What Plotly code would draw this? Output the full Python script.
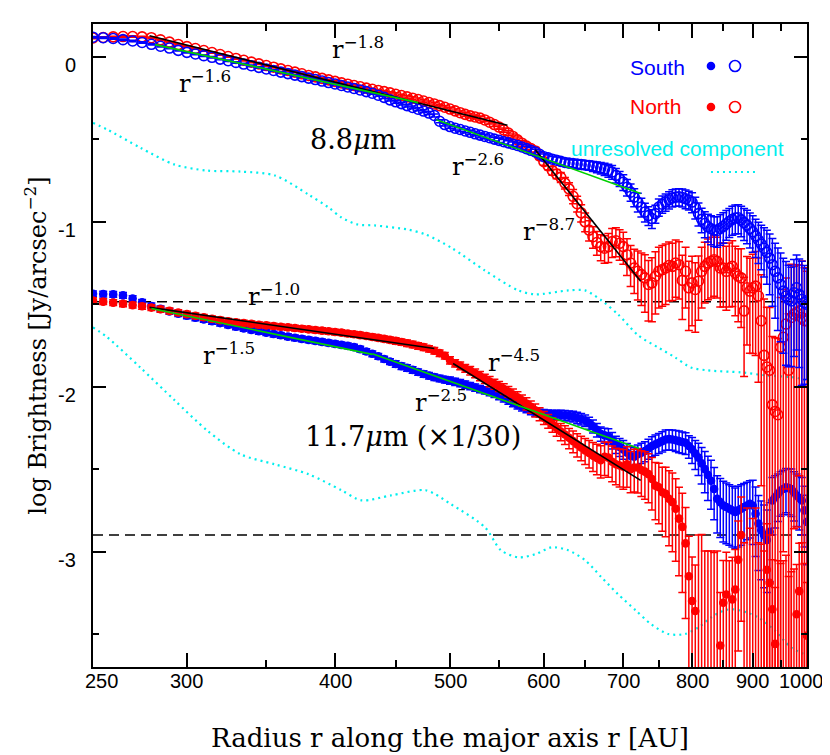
import math
import plotly.graph_objects as go

# ---------------- data ----------------
R = [250, 255, 260, 265, 270, 275, 280, 285, 290, 295,
     300, 305, 310, 315, 320, 325, 330, 335, 340, 345,
     350, 355, 360, 365, 370, 375, 380, 385, 390, 395,
     400, 405, 410, 415, 420, 425, 430, 435, 440, 445,
     450, 455, 460, 465, 470, 475, 480, 485, 490, 495,
     500, 505, 510, 515, 520, 525, 530, 535, 540, 545,
     550, 555, 560, 565, 570, 575, 580, 585, 590, 595,
     600, 605, 610, 615, 620, 625, 630, 635, 640, 645,
     650, 655, 660, 665, 670, 675, 680, 685, 690, 695,
     700, 705, 710, 715, 720, 725, 730, 735, 740, 745,
     750, 755, 760, 765, 770, 775, 780, 785, 790, 795,
     800, 805, 810, 815, 820, 825, 830, 835, 840, 845,
     850, 855, 860, 865, 870, 875, 880, 885, 890, 895,
     900, 905, 910, 915, 920, 925, 930, 935, 940, 945,
     950, 955, 960, 965, 970, 975, 980, 985, 990, 995,
     1000]

# 8.8 um, South (blue open)
S88 = [0.120, 0.117, 0.112, 0.105, 0.097, 0.088, 0.077, 0.065, 0.054, 0.040,
       0.028, 0.018, 0.008, -0.002, -0.013, -0.023, -0.033, -0.043, -0.053, -0.063,
       -0.073, -0.082, -0.092, -0.101, -0.110, -0.119, -0.128, -0.137, -0.146, -0.155,
       -0.164, -0.173, -0.182, -0.191, -0.200, -0.210, -0.220, -0.232, -0.245, -0.260,
       -0.272, -0.283, -0.295, -0.306, -0.317, -0.328, -0.340, -0.355, -0.390, -0.410,
       -0.422, -0.432, -0.440, -0.449, -0.457, -0.466, -0.474, -0.482, -0.490, -0.498,
       -0.506, -0.514, -0.521, -0.529, -0.537, -0.546, -0.556, -0.566, -0.576, -0.590,
       -0.605, -0.612, -0.620, -0.626, -0.633, -0.640, -0.644, -0.646, -0.650, -0.652,
       -0.655, -0.658, -0.663, -0.668, -0.674, -0.680, -0.688, -0.698, -0.718, -0.738,
       -0.760, -0.790, -0.820, -0.850, -0.880, -0.910, -0.940, -0.962, -0.980, -0.950,
       -0.910, -0.893, -0.880, -0.866, -0.855, -0.850, -0.848, -0.852, -0.860, -0.868,
       -0.880, -0.912, -0.950, -0.985, -1.010, -1.030, -1.042, -1.050, -1.052, -1.040,
       -1.028, -1.012, -0.998, -0.985, -0.977, -0.975, -0.988, -1.005, -1.020, -1.040,
       -1.060, -1.085, -1.110, -1.135, -1.160, -1.185, -1.220, -1.260, -1.300, -1.340,
       -1.380, -1.420, -1.450, -1.470, -1.480, -1.430, -1.400, -1.440, -1.470, -1.490,
       -1.500]

# 8.8 um, North (red open)
N88 = [0.115, 0.118, 0.122, 0.124, 0.124, 0.122, 0.117, 0.104, 0.090, 0.076,
       0.063, 0.051, 0.039, 0.027, 0.015, 0.003, -0.009, -0.020, -0.031, -0.042,
       -0.052, -0.062, -0.072, -0.082, -0.092, -0.102, -0.112, -0.121, -0.130, -0.139,
       -0.148, -0.157, -0.165, -0.173, -0.181, -0.189, -0.196, -0.203, -0.210, -0.218,
       -0.226, -0.234, -0.242, -0.250, -0.258, -0.267, -0.276, -0.285, -0.295, -0.305,
       -0.316, -0.327, -0.338, -0.348, -0.357, -0.364, -0.371, -0.382, -0.396, -0.410,
       -0.425, -0.443, -0.462, -0.482, -0.503, -0.523, -0.541, -0.556, -0.570, -0.600,
       -0.635, -0.660, -0.690, -0.710, -0.730, -0.765, -0.800, -0.845, -0.890, -0.945,
       -1.000, -1.050, -1.090, -1.125, -1.150, -1.160, -1.150, -1.120, -1.115, -1.130,
       -1.150, -1.200, -1.250, -1.280, -1.300, -1.320, -1.340, -1.380, -1.370, -1.330,
       -1.300, -1.290, -1.280, -1.265, -1.270, -1.250, -1.260, -1.355, -1.300, -1.400,
       -1.370, -1.410, -1.360, -1.300, -1.270, -1.250, -1.240, -1.230, -1.240, -1.280,
       -1.280, -1.300, -1.280, -1.270, -1.310, -1.330, -1.340, -1.540, -1.400, -1.420,
       -1.400, -1.390, -1.450, -1.600, -1.810, -1.880, -1.900, -2.110, -2.150, -2.170,
       -1.760, -1.700, -1.620, -1.900, -1.580, -1.560, -1.550, -1.540, -1.580, -1.600,
       -1.600]

# 11.7 um (x1/30), South (blue filled)
S117 = [-1.436, -1.438, -1.440, -1.446, -1.465, -1.488, -1.510, -1.528, -1.543, -1.557,
        -1.570, -1.582, -1.592, -1.603, -1.614, -1.625, -1.636, -1.646, -1.655, -1.664,
        -1.672, -1.680, -1.688, -1.696, -1.703, -1.710, -1.716, -1.722, -1.728, -1.734,
        -1.740, -1.746, -1.752, -1.760, -1.772, -1.786, -1.800, -1.815, -1.832, -1.848,
        -1.862, -1.875, -1.886, -1.898, -1.911, -1.923, -1.933, -1.942, -1.950, -1.957,
        -1.963, -1.970, -1.978, -1.987, -1.996, -2.005, -2.014, -2.022, -2.032, -2.043,
        -2.055, -2.068, -2.082, -2.097, -2.110, -2.122, -2.134, -2.145, -2.154, -2.160,
        -2.164, -2.166, -2.168, -2.170, -2.172, -2.174, -2.176, -2.180, -2.188, -2.196,
        -2.205, -2.220, -2.240, -2.262, -2.285, -2.295, -2.300, -2.325, -2.350, -2.365,
        -2.380, -2.400, -2.420, -2.425, -2.410, -2.400, -2.390, -2.375, -2.360, -2.350,
        -2.340, -2.330, -2.320, -2.318, -2.320, -2.325, -2.330, -2.335, -2.340, -2.360,
        -2.380, -2.405, -2.430, -2.465, -2.500, -2.535, -2.570, -2.620, -2.680, -2.700,
        -2.720, -2.730, -2.740, -2.750, -2.760, -2.750, -2.740, -2.730, -2.720, -2.710,
        -2.720, -2.770, -2.830, -2.870, -2.900, -2.930, -2.880, -2.690, -2.670, -2.650,
        -2.630, -2.620, -2.610, -2.615, -2.620, -2.640, -2.660, -2.675, -2.690, -2.750,
        -2.820]

# 11.7 um (x1/30), North (red filled); points below -3.7 fall under the frame
N117 = [-1.478, -1.484, -1.490, -1.497, -1.505, -1.512, -1.520, -1.530, -1.540, -1.550,
        -1.560, -1.570, -1.579, -1.588, -1.596, -1.603, -1.609, -1.614, -1.619, -1.624,
        -1.628, -1.632, -1.636, -1.640, -1.644, -1.648, -1.652, -1.656, -1.660, -1.664,
        -1.668, -1.672, -1.677, -1.682, -1.687, -1.692, -1.698, -1.704, -1.710, -1.716,
        -1.722, -1.729, -1.736, -1.744, -1.752, -1.760, -1.770, -1.782, -1.796, -1.812,
        -1.840, -1.858, -1.873, -1.888, -1.902, -1.918, -1.935, -1.952, -1.968, -1.984,
        -1.998, -2.014, -2.030, -2.047, -2.064, -2.083, -2.102, -2.122, -2.143, -2.165,
        -2.188, -2.208, -2.230, -2.250, -2.272, -2.290, -2.310, -2.330, -2.350, -2.368,
        -2.386, -2.402, -2.418, -2.432, -2.445, -2.425, -2.430, -2.455, -2.470, -2.478,
        -2.485, -2.470, -2.500, -2.490, -2.490, -2.505, -2.515, -2.530, -2.560, -2.600,
        -2.610, -2.640, -2.650, -2.680, -2.700, -2.740, -2.800, -2.850, -2.950, -3.150,
        -3.300, -3.360, -3.900, -3.850, -3.900, -3.950, -3.900, -3.850, -3.900, -3.570,
        -3.310, -3.260, -3.900, -3.290, -3.230, -3.050, -2.900, -3.900, -3.850, -3.900,
        -3.800, -3.850, -3.900, -3.800, -3.900, -3.110, -3.190, -3.350, -3.560, -3.900,
        -3.850, -3.900, -3.800, -3.850, -3.900, -3.950, -3.380, -3.240, -3.900, -3.850,
        -3.510]

# relative (linear) 1-sigma errors
E_S88 = [0.01, 0.01, 0.01, 0.01, 0.01, 0.01, 0.01, 0.01, 0.01, 0.01,
         0.01, 0.01, 0.01, 0.01, 0.01, 0.01, 0.01, 0.01, 0.01, 0.01,
         0.01, 0.01, 0.01, 0.01, 0.01, 0.01, 0.01, 0.01, 0.01, 0.01,
         0.015, 0.015, 0.015, 0.015, 0.015, 0.015, 0.015, 0.015, 0.015, 0.015,
         0.02, 0.02, 0.02, 0.02, 0.02, 0.02, 0.02, 0.02, 0.02, 0.02,
         0.025, 0.025, 0.025, 0.025, 0.025, 0.025, 0.025, 0.025, 0.025, 0.025,
         0.03, 0.03, 0.03, 0.03, 0.035, 0.035, 0.035, 0.04, 0.04, 0.04,
         0.04, 0.04, 0.04, 0.045, 0.05, 0.05, 0.05, 0.055, 0.06, 0.06,
         0.06, 0.065, 0.07, 0.075, 0.08, 0.085, 0.09, 0.095, 0.10, 0.105,
         0.11, 0.115, 0.12, 0.125, 0.13, 0.13, 0.13, 0.13, 0.13, 0.125,
         0.12, 0.12, 0.12, 0.12, 0.12, 0.12, 0.12, 0.125, 0.13, 0.13,
         0.14, 0.15, 0.16, 0.17, 0.18, 0.19, 0.20, 0.205, 0.21, 0.21,
         0.21, 0.205, 0.20, 0.20, 0.20, 0.20, 0.21, 0.22, 0.23, 0.24,
         0.25, 0.26, 0.28, 0.30, 0.33, 0.36, 0.40, 0.44, 0.48, 0.52,
         0.55, 0.58, 0.62, 0.61, 0.60, 0.59, 0.58, 0.64, 0.70, 0.68,
         0.65]
E_N88 = [0.01, 0.01, 0.01, 0.01, 0.01, 0.01, 0.01, 0.01, 0.01, 0.01,
         0.01, 0.01, 0.01, 0.01, 0.01, 0.01, 0.01, 0.01, 0.01, 0.01,
         0.01, 0.01, 0.01, 0.01, 0.01, 0.01, 0.01, 0.01, 0.01, 0.01,
         0.015, 0.015, 0.015, 0.015, 0.015, 0.015, 0.015, 0.015, 0.015, 0.015,
         0.02, 0.02, 0.02, 0.02, 0.02, 0.02, 0.02, 0.02, 0.02, 0.02,
         0.025, 0.025, 0.025, 0.025, 0.025, 0.025, 0.025, 0.025, 0.025, 0.025,
         0.03, 0.03, 0.035, 0.035, 0.04, 0.04, 0.045, 0.045, 0.05, 0.05,
         0.05, 0.055, 0.06, 0.065, 0.07, 0.08, 0.09, 0.10, 0.11, 0.12,
         0.13, 0.14, 0.15, 0.165, 0.18, 0.19, 0.20, 0.20, 0.20, 0.21,
         0.22, 0.25, 0.28, 0.30, 0.33, 0.35, 0.38, 0.40, 0.42, 0.41,
         0.40, 0.40, 0.40, 0.39, 0.38, 0.38, 0.38, 0.42, 0.40, 0.45,
         0.45, 0.45, 0.42, 0.40, 0.40, 0.40, 0.40, 0.40, 0.40, 0.42,
         0.42, 0.42, 0.42, 0.43, 0.45, 0.47, 0.50, 0.60, 0.55, 0.58,
         0.60, 0.62, 0.70, 0.90, 1.20, 1.30, 1.40, 1.60, 1.80, 1.90,
         1.00, 0.95, 0.90, 1.20, 1.10, 0.95, 0.95, 0.90, 1.20, 1.10,
         1.00]
E_S117 = [0.04, 0.04, 0.04, 0.04, 0.04, 0.04, 0.04, 0.04, 0.04, 0.04,
          0.04, 0.04, 0.04, 0.04, 0.04, 0.04, 0.04, 0.04, 0.04, 0.04,
          0.04, 0.04, 0.04, 0.04, 0.04, 0.04, 0.04, 0.04, 0.04, 0.04,
          0.04, 0.04, 0.04, 0.04, 0.04, 0.04, 0.04, 0.04, 0.04, 0.04,
          0.045, 0.045, 0.045, 0.045, 0.045, 0.045, 0.045, 0.045, 0.045, 0.045,
          0.05, 0.05, 0.05, 0.05, 0.05, 0.05, 0.05, 0.05, 0.05, 0.05,
          0.055, 0.055, 0.055, 0.055, 0.055, 0.055, 0.055, 0.055, 0.055, 0.055,
          0.06, 0.06, 0.06, 0.065, 0.07, 0.07, 0.07, 0.075, 0.08, 0.08,
          0.08, 0.085, 0.09, 0.095, 0.10, 0.105, 0.11, 0.115, 0.12, 0.125,
          0.13, 0.135, 0.14, 0.14, 0.14, 0.14, 0.14, 0.14, 0.14, 0.14,
          0.14, 0.14, 0.14, 0.14, 0.14, 0.145, 0.15, 0.15, 0.15, 0.155,
          0.18, 0.20, 0.22, 0.25, 0.28, 0.30, 0.33, 0.35, 0.38, 0.39,
          0.40, 0.40, 0.40, 0.40, 0.40, 0.40, 0.40, 0.39, 0.38, 0.38,
          0.42, 0.45, 0.48, 0.50, 0.52, 0.52, 0.50, 0.38, 0.35, 0.32,
          0.30, 0.30, 0.30, 0.31, 0.32, 0.33, 0.35, 0.36, 0.38, 0.40,
          0.45]
E_N117 = [0.04, 0.04, 0.04, 0.04, 0.04, 0.04, 0.04, 0.04, 0.04, 0.04,
          0.04, 0.04, 0.04, 0.04, 0.04, 0.04, 0.04, 0.04, 0.04, 0.04,
          0.04, 0.04, 0.04, 0.04, 0.04, 0.04, 0.04, 0.04, 0.04, 0.04,
          0.04, 0.04, 0.04, 0.04, 0.04, 0.04, 0.04, 0.04, 0.04, 0.04,
          0.045, 0.045, 0.045, 0.045, 0.045, 0.045, 0.045, 0.045, 0.045, 0.045,
          0.05, 0.05, 0.055, 0.055, 0.06, 0.06, 0.065, 0.065, 0.07, 0.07,
          0.07, 0.075, 0.075, 0.08, 0.08, 0.08, 0.085, 0.085, 0.09, 0.09,
          0.09, 0.095, 0.10, 0.11, 0.12, 0.13, 0.14, 0.15, 0.16, 0.17,
          0.18, 0.19, 0.20, 0.21, 0.22, 0.23, 0.24, 0.245, 0.25, 0.26,
          0.27, 0.275, 0.28, 0.29, 0.30, 0.31, 0.32, 0.33, 0.35, 0.38,
          0.40, 0.42, 0.45, 0.48, 0.50, 0.52, 0.55, 0.60, 0.65, 0.75,
          0.85, 0.90, 9.0, 8.0, 7.0, 8.0, 7.0, 6.0, 7.0, 1.10,
          0.80, 0.80, 6.0, 0.80, 0.75, 0.72, 0.70, 8.0, 12.0, 10.0,
          9.0, 12.0, 8.0, 6.0, 7.0, 0.90, 0.95, 1.00, 1.20, 6.0,
          5.0, 6.0, 5.0, 4.0, 5.0, 6.0, 1.00, 0.95, 8.0, 5.0,
          1.10]

# unresolved (PSF) components
UNRES88_R = [250, 257, 274, 293, 312, 333, 356, 380, 395, 405, 418, 432, 461, 477, 501,
             535, 571, 590, 629, 650, 671, 693, 721, 749, 774, 798, 825, 880, 922, 977, 1000]
UNRES88_V = [-0.40, -0.44, -0.55, -0.653, -0.689, -0.695, -0.719, -0.835, -0.913, -0.974,
             -1.016, -1.022, -1.047, -1.077, -1.156, -1.295, -1.416, -1.44, -1.416, -1.416,
             -1.477, -1.562, -1.69, -1.762, -1.822, -1.883, -1.901, -1.913, -1.931, -1.944, -1.962]
UNRES117_R = [250, 257, 274, 293, 312, 333, 356, 380, 405, 421, 446, 477, 501, 535, 552,
              571, 590, 609, 629, 650, 671, 693, 717, 739, 764, 789, 810, 830, 852, 868,
              890, 910, 940, 969, 1000]
UNRES117_V = [-1.64, -1.70, -1.883, -2.083, -2.265, -2.41, -2.471, -2.531, -2.628, -2.689,
              -2.659, -2.628, -2.713, -2.852, -2.992, -3.035, -3.016, -2.974, -2.992, -3.053,
              -3.156, -3.259, -3.356, -3.441, -3.50, -3.50, -3.46, -3.40, -3.356, -3.35,
              -3.37, -3.40, -3.48, -3.58, -3.63]

# power-law fits (end points)
FIT_N88_A = ([279, 559], [0.129, -0.414])      # r^-1.8
FIT_N88_B = ([590, 724], [-0.562, -1.36])      # r^-8.7
FIT_S88_A = ([282, 470], [0.075, -0.277])      # r^-1.6
FIT_S88_B = ([487, 724], [-0.38, -0.828])      # r^-2.6
FIT_N117_A = ([279, 485], [-1.519, -1.768])    # r^-1.0
FIT_N117_B = ([503, 724], [-1.859, -2.568])    # r^-4.5
FIT_S117_A = ([280, 430], [-1.526, -1.804])    # r^-1.5
FIT_S117_B = ([430, 722], [-1.80, -2.374])     # r^-2.5

BACKGROUND_LEVELS = [-1.485, -2.899]

X_TICK_VALS = [250, 300, 400, 500, 600, 700, 800, 900, 1000]
X_TICK_TEXT = ["250", "300", "400", "500", "600", "700", "800", "900", "1000"]
X_MINOR_VALS = [350, 450, 550, 650, 750, 850, 950]
Y_TICK_VALS = [0, -1, -2, -3]
Y_TICK_TEXT = ["0", "-1", "-2", "-3"]
Y_MINOR_VALS = [-0.5, -1.5, -2.5, -3.5]

# ---------------- figure ----------------
BLUE = "#0000ff"
RED = "#ff0000"
CYAN = "#00eeee"
GREEN = "#00d000"
SERIF = "DejaVu Serif"
SANS = "Liberation Sans"


def err_bounds(e_list):
    plus = [math.log10(1 + e) for e in e_list]
    minus = [(-math.log10(1 - e)) if e < 0.999 else 8.0 for e in e_list]
    return plus, minus


fig = go.Figure()

for rr, vv in [(UNRES88_R, UNRES88_V), (UNRES117_R, UNRES117_V)]:
    fig.add_trace(go.Scatter(x=rr, y=vv, mode="lines",
                             line=dict(color=CYAN, width=2.2, dash="2px,4px", shape="spline", smoothing=0.8),
                             showlegend=False, hoverinfo="skip"))

for lv in BACKGROUND_LEVELS:
    fig.add_trace(go.Scatter(x=[R[0], R[-1]], y=[lv, lv], mode="lines",
                             line=dict(color="black", width=1.5, dash="10px,6px"), showlegend=False))


def add_series(y, e, color, symbol, size):
    plus, minus = err_bounds(e)
    fig.add_trace(go.Scatter(
        x=R, y=y, mode="markers",
        marker=dict(symbol=symbol, size=size, color=color, line=dict(color=color, width=1.6)),
        error_y=dict(type="data", symmetric=False, array=plus, arrayminus=minus,
                     color=color, thickness=1.5, width=4),
        showlegend=False))


add_series(S117, E_S117, BLUE, "circle", 7)
add_series(N117, E_N117, RED, "circle", 7)
add_series(N88, E_N88, RED, "circle-open", 10)
add_series(S88, E_S88, BLUE, "circle-open", 10)

for (fx, fy), col in [(FIT_N88_A, "black"), (FIT_N88_B, "black"), (FIT_S88_A, GREEN), (FIT_S88_B, GREEN),
                      (FIT_N117_A, "black"), (FIT_N117_B, "black"), (FIT_S117_A, GREEN), (FIT_S117_B, GREEN)]:
    fig.add_trace(go.Scatter(x=fx, y=fy, mode="lines", line=dict(color=col, width=1.6), showlegend=False))

fig.update_xaxes(type="log", range=[math.log10(250), math.log10(1000)],
                 showline=True, linecolor="black", linewidth=1.5, mirror="ticks",
                 ticks="inside", ticklen=14, tickwidth=1.5, tickcolor="black",
                 tickmode="array", tickvals=X_TICK_VALS, showticklabels=False,
                 showgrid=False, zeroline=False,
                 minor=dict(tickvals=X_MINOR_VALS, ticks="inside", ticklen=7, tickwidth=1.5,
                            tickcolor="black", showgrid=False))
fig.update_yaxes(range=[-3.7, 0.2], showline=True, linecolor="black", linewidth=1.5, mirror="ticks",
                 ticks="inside", ticklen=13, tickwidth=1.5, tickcolor="black",
                 tickmode="array", tickvals=Y_TICK_VALS, showticklabels=False,
                 showgrid=False, zeroline=False,
                 minor=dict(tickvals=Y_MINOR_VALS, ticks="inside", ticklen=6, tickwidth=1.5,
                            tickcolor="black", showgrid=False))

ann = []
for v, t in zip(X_TICK_VALS, X_TICK_TEXT):
    sh = 8 if v == X_TICK_VALS[0] else (-6 if v == X_TICK_VALS[-1] else 0)
    ann.append(dict(x=math.log10(v), y=-0.021, xref="x", yref="paper", text=t, showarrow=False,
                    xanchor="center", yanchor="middle", xshift=sh,
                    font=dict(family=SANS, size=20, color="black")))
for v, t in zip(Y_TICK_VALS, Y_TICK_TEXT):
    ann.append(dict(x=-0.021, y=v, xref="paper", yref="y", text=t, showarrow=False,
                    xanchor="right", yanchor="middle", yshift=-8,
                    font=dict(family=SANS, size=20, color="black")))


def lab(x, y, t, size=24, color="black", fam=SERIF):
    ann.append(dict(x=x, y=y, xref="paper", yref="paper", text=t, showarrow=False,
                    xanchor="center", yanchor="middle", font=dict(family=fam, size=size, color=color)))


lab(0.371, 0.963, "r<sup>\u22121.8</sup>")
lab(0.157, 0.910, "r<sup>\u22121.6</sup>")
lab(0.364, 0.820, "8.8<i>\u03bc</i>m", size=27)
lab(0.539, 0.781, "r<sup>\u22122.6</sup>")
lab(0.639, 0.680, "r<sup>\u22128.7</sup>")
lab(0.2535, 0.5785, "r<sup>\u22121.0</sup>")
lab(0.1905, 0.4868, "r<sup>\u22121.5</sup>")
lab(0.5896, 0.4759, "r<sup>\u22124.5</sup>")
lab(0.4874, 0.4137, "r<sup>\u22122.5</sup>")
lab(0.448, 0.3577, "11.7<i>\u03bc</i>m (\u00d71/30)", size=27)
lab(0.791, 0.933, "South", size=21, color=BLUE, fam=SANS)
lab(0.7885, 0.871, "North", size=21, color=RED, fam=SANS)
lab(0.819, 0.8056, "unresolved component", size=21, color=CYAN, fam=SANS)

ann.append(dict(x=0.5, y=-0.11, xref="paper", yref="paper", text="Radius r along the major axis r [AU]",
                showarrow=False, xanchor="center", yanchor="middle",
                font=dict(family=SERIF, size=26, color="black")))
ann.append(dict(x=-0.081, y=0.5, xref="paper", yref="paper",
                text="log Brightness [Jy/arcsec<sup>\u22122</sup>]",
                showarrow=False, xanchor="center", yanchor="middle", textangle=-90,
                font=dict(family=SERIF, size=24, color="black")))

shapes = []
PW, PH = 714.0, 643.0
for (xc, yc, col, filled) in [(0.8655, 0.9347, BLUE, True), (0.8992, 0.9347, BLUE, False),
                              (0.8655, 0.8709, RED, True), (0.8992, 0.8709, RED, False)]:
    rp = 3.5 if filled else 5.5
    shapes.append(dict(type="circle", xref="paper", yref="paper",
                       x0=xc - rp / PW, x1=xc + rp / PW, y0=yc - rp / PH, y1=yc + rp / PH,
                       line=dict(color=col, width=1.6), fillcolor=col if filled else "rgba(0,0,0,0)"))
shapes.append(dict(type="line", xref="paper", yref="paper", x0=0.8655, x1=0.931, y0=0.7698, y1=0.7698,
                   line=dict(color=CYAN, width=2.2, dash="2px,4px")))

fig.update_layout(width=830, height=755, margin=dict(l=85, r=31, t=16, b=96),
                  plot_bgcolor="white", paper_bgcolor="white", showlegend=False,
                  annotations=ann, shapes=shapes)

fig.write_html("out.html")
